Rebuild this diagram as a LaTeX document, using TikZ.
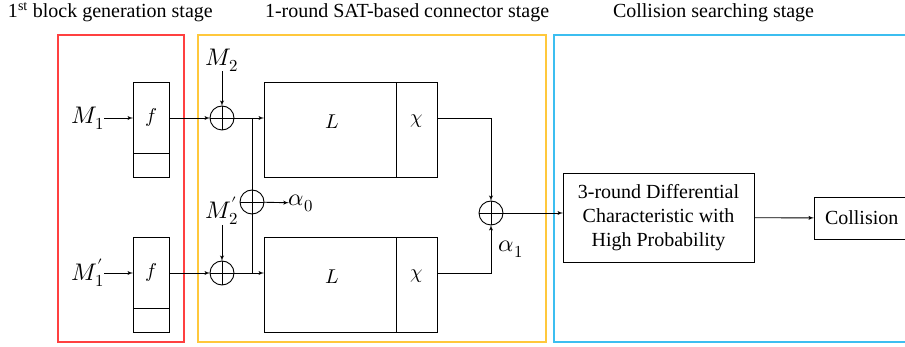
\documentclass[tikz,border=0pt]{standalone}
\usepackage{amsmath}
\usepackage{fontspec}
\usepackage{unicode-math}
\setmainfont{Liberation Serif}
\setmathfont{Latin Modern Math}
\newfontfamily\stagefont{Liberation Serif}
\usetikzlibrary{arrows, positioning, calc}
\definecolor{stagered}{RGB}{255,64,64}
\definecolor{stageyellow}{RGB}{255,200,60}
\definecolor{stageblue}{RGB}{60,190,240}

\begin{document}
\begin{tikzpicture}[>=latex', x=1pt, y=-1pt, line width=.9pt,
    every node/.style={inner sep=0pt, outer sep=0pt},
    lab/.style={font=\fontsize{24}{28}\selectfont},
    sym/.style={font=\fontsize{20}{24}\selectfont},
    fbox/.style={draw, minimum width=36pt, minimum height=71pt},
    fcap/.style={draw, minimum width=36pt, minimum height=24pt},
    lbox/.style={draw, minimum width=132pt, minimum height=95pt},
    chibox/.style={draw, minimum width=41pt, minimum height=95pt},
    xorop/.style={draw, circle, minimum size=24pt,
        path picture={\draw (path picture bounding box.north) -- (path picture bounding box.south)
                            (path picture bounding box.west) -- (path picture bounding box.east);}},
    txtbox/.style={draw, align=center, font=\stagefont\fontsize{20}{24}\selectfont},
    stage/.style={anchor=base west, font=\stagefont\fontsize{20}{24}\selectfont}]
        \clip (0,0) rectangle (905,347);
        % stages
        \node[stage] at (8,18) {1\textsuperscript{st} block generation stage};
        \node[stage] at (265,18) {1-round SAT-based connector stage};
        \node[stage] at (613,18) {Collision searching stage};
        \draw[stagered, line width=1.2pt] (58,35) rectangle (184,342);
        \draw[stageyellow, line width=1.2pt] (198,35) rectangle (546,342);
        \draw[stageblue, line width=1.2pt] (554,35) rectangle (920,342);

        % first block
        \node[lab] (m1) at (88,118) {$M_1$};
        \node[lab] (m1p) at (88,273) {$M'_1$};
        \node[fbox, sym] (f1) at (151,118) {$f$};
        \node[fcap, below=0pt of f1] (f1c) {};
        \node[fbox, sym] (f2) at (151,273) {$f$};
        \node[fcap, below=0pt of f2] (f2c) {};

        % connector
        \node[xorop] (x1) at (222,118) {};
        \node[xorop] (x2) at (222,273) {};
        \node[xorop] (xa0) at (252,202) {};
        \node[lab] (m2) at (222,60) {$M_2$};
        \node[lab] (m2p) at (222,211) {$M'_2$};
        \node[lab] (a0) at (301,203) {$\alpha_0$};
        \node[lbox] (L1) at (330,129.5) {};
        \node[chibox, right=0pt of L1] (chi1) {};
        \node[lbox] (L2) at (330,284.5) {};
        \node[chibox, right=0pt of L2] (chi2) {};
        \node[sym] at (332,122) {$L$};
        \node[sym] at (416.5,121) {$\chi$};
        \node[sym] at (332,277) {$L$};
        \node[sym] at (416.5,276) {$\chi$};
        \node[xorop] (xa1) at (491,213) {};
        \node[lab] (a1) at (511,249) {$\alpha_1$};

        % search
        \node[txtbox, minimum width=191pt, minimum height=89pt] (dc) at (658.5,217.5)
            {3-round Differential\\Characteristic with\\High Probability};
        \node[txtbox, anchor=west, inner xsep=11pt, minimum height=42pt] (col) at (814,218) {Collision};

        \draw[->] (m1) -- (f1);
        \draw[->] (m1p) -- (f2);
        \draw[->] (f1) -- (x1);
        \draw[->] (f2) -- (x2);
        \draw[->] (m2) -- (x1);
        \draw[->] (m2p) -- (x2);
        \draw[->] (x1) -- (x1 -| L1.west);
        \draw[->] (x2) -- (x2 -| L2.west);
        \draw (x1 -| xa0) -- (x2 -| xa0);
        \draw[->] (xa0) -- (a0);
        \draw[->] (chi1.east |- x1) -| (xa1);
        \draw[->] (chi2.east |- x2) -| (xa1);
        \draw[->] (xa1) -- (xa1 -| dc.west);
        \draw[->] (dc) -- (col);
      \end{tikzpicture}
\end{document}
